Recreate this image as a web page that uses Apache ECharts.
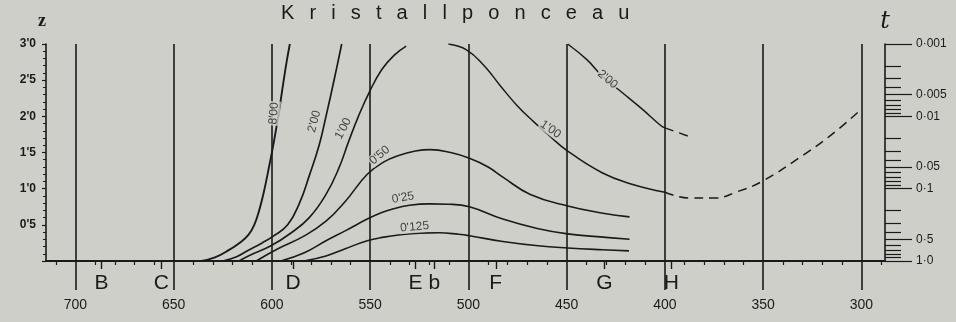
<!DOCTYPE html>
<html><head><meta charset="utf-8">
<script src="https://cdn.jsdelivr.net/npm/echarts@6/dist/echarts.min.js"></script>
<style>html,body{margin:0;padding:0;background:#cfcfca;}#c{width:956px;height:322px;}</style>
</head><body><div id="c"></div>
<script>
// ---- text / ticks ----
const chartTitle = 'Kristallponceau';
const nmGridLines = [700, 650, 600, 550, 500, 450, 400, 350, 300];
const nmLabels = ['700', '650', '600', '550', '500', '450', '400', '350', '300'];
const fraunhoferNm = [686.7, 656.3, 589.3, 527.0, 517.3, 486.1, 430.8, 396.8];
const fraunhoferLabels = ['B', 'C', 'D', 'E', 'b', 'F', 'G', 'H'];
const zTicks = [0.5, 1, 1.5, 2, 2.5, 3];
const zLabels = ["0'5", "1'0", "1'5", "2'0", "2'5", "3'0"];
const tTicks = [0.001, 0.005, 0.01, 0.05, 0.1, 0.5, 1];
const tLabels = ['0·001', '0·005', '0·01', '0·05', '0·1', '0·5', '1·0'];
const tMinorTicks = [0.002, 0.003, 0.004, 0.006, 0.007, 0.008, 0.009, 0.02, 0.03, 0.04, 0.06, 0.07, 0.08, 0.09, 0.2, 0.3, 0.4, 0.6, 0.7, 0.8, 0.9];

// ---- curves: [wavelength nm, z] ----
const curve800 = [[636,0],[629,0.05],[622,0.15],[616,0.26],[612,0.36],[609,0.5],[606.5,0.7],[604,0.97],[601.5,1.3],[599,1.65],[596.5,2.05],[594.3,2.45],[592.5,2.76],[590.9,3.0]];
const curve200Left = [[625,0],[618,0.06],[612,0.15],[605,0.25],[599.5,0.34],[592,0.5],[586,0.8],[581,1.18],[576,1.6],[572.5,2.0],[568,2.55],[564.5,3.0]];
const curve100Left = [[616.7,0],[612,0.07],[600.5,0.21],[590.7,0.38],[581,0.6],[572.5,0.92],[566,1.28],[561,1.65],[556,2.0],[550,2.36],[544,2.65],[538,2.84],[531.7,2.97]];
const curve050 = [[608,0],[597,0.17],[584,0.34],[572.5,0.55],[562.5,0.83],[551.5,1.2],[543,1.37],[535.5,1.46],[527,1.52],[519.5,1.54],[509,1.5],[499.5,1.42],[490,1.3],[482.5,1.16],[468.5,0.92],[449.5,0.76],[431.5,0.66],[418,0.61]];
const curve025 = [[595.5,0],[583.8,0.11],[572.5,0.28],[562.5,0.42],[551.5,0.58],[545,0.66],[538.5,0.72],[530,0.77],[520,0.79],[510,0.785],[499.5,0.75],[482.5,0.58],[465,0.45],[449.5,0.375],[431.5,0.33],[418,0.3]];
const curve0125 = [[583.8,0],[572.5,0.07],[562.7,0.17],[551.5,0.28],[543,0.33],[535.5,0.36],[525,0.385],[515,0.39],[505,0.37],[499.5,0.35],[482.5,0.27],[464.5,0.21],[449.5,0.18],[431.7,0.155],[418.3,0.14]];
const curve100Right = [[510.2,3.0],[501,2.92],[492,2.7],[484,2.43],[475.3,2.15],[467,1.93],[460,1.76],[449.5,1.52],[432,1.22],[416.8,1.06],[400,0.95]];
const curve100Dashed = [[400,0.95],[387,0.87],[375,0.87],[363,0.96],[350.6,1.1],[332,1.42],[315.5,1.74],[300,2.1]];
const curve200Right = [[449.5,3.0],[439.6,2.78],[431.7,2.55],[421.8,2.33],[412,2.11],[402,1.87],[400,1.84]];
const curve200Dashed = [[400,1.84],[387.5,1.72]];

// ---- curve labels ----
const curveLabelText = ["8'00", "2'00", "1'00", "0'50", "0'25", "0'125", "1'00", "2'00"];
const curveLabelNm = [599, 578.4, 563.7, 545.2, 533.3, 527.4, 458.2, 429.2];
const curveLabelZ = [2.04, 1.93, 1.83, 1.46, 0.875, 0.47, 1.82, 2.51];
const curveLabelAngle = [85, 75, 62, 40, 10, 5, -35, -40];

// ---- style ----
const BG = '#cfcfca';
const INK = '#1a1a1a';
const X_MIN = 288, X_MAX = 715;

const minorNm = [];
for (let v = 290; v <= 710; v += 10) if (v % 50 !== 0) minorNm.push(v);
const zOfT = t => -Math.log10(t);

function curveSeries(data, dashed, width) {
  return {
    type: 'line', data: data, xAxisIndex: 0, yAxisIndex: 0,
    showSymbol: false, symbol: 'none', smooth: 0.45, silent: true,
    lineStyle: { color: INK, width: width || 1.6, type: dashed ? [9, 6] : 'solid' },
    z: 3
  };
}

const baseX = { type: 'value', min: X_MIN, max: X_MAX, inverse: true, position: 'bottom', gridIndex: 0, splitLine: { show: false } };

const option = {
  backgroundColor: BG,
  animation: false,
  title: {
    text: chartTitle.split('').join('  \u2009'),
    left: 281, top: 3, padding: 0,
    textStyle: { fontFamily: 'Liberation Sans', fontSize: 20, fontWeight: 'normal', color: INK }
  },
  grid: { left: 46, right: 71, top: 44, bottom: 61 },
  xAxis: [
    Object.assign({}, baseX, {
      axisLine: { show: true, lineStyle: { color: INK, width: 1.8 } },
      axisTick: { show: true, customValues: minorNm, length: 4, lineStyle: { color: INK, width: 1.2 } },
      axisLabel: { show: false }
    }),
    Object.assign({}, baseX, {
      axisLine: { show: false },
      axisTick: { show: true, customValues: nmGridLines, length: 29, lineStyle: { color: INK, width: 1.6 } },
      axisLabel: {
        show: true, customValues: nmGridLines, margin: 37,
        fontFamily: 'Liberation Sans', fontSize: 14, color: INK,
        formatter: v => nmLabels[nmGridLines.indexOf(v)]
      },
      splitLine: { show: true, lineStyle: { color: INK, width: 1.6 } }
    }),
    Object.assign({}, baseX, {
      axisLine: { show: false },
      axisTick: { show: true, customValues: fraunhoferNm, length: 8, lineStyle: { color: INK, width: 1.4 } },
      axisLabel: {
        show: true, customValues: fraunhoferNm, margin: 12,
        fontFamily: 'Liberation Sans', fontSize: 21, color: INK,
        formatter: v => fraunhoferLabels[fraunhoferNm.indexOf(v)]
      }
    })
  ],
  yAxis: [
    {
      type: 'value', min: 0, max: 3, interval: 0.5, position: 'left',
      name: 'z', nameLocation: 'end', nameGap: 14,
      nameTextStyle: { fontFamily: 'Liberation Serif', fontWeight: 'bold', fontSize: 18, color: INK, align: 'right' },
      axisLine: { show: true, lineStyle: { color: INK, width: 1.6 } },
      axisTick: { show: true, length: 4, lineStyle: { color: INK, width: 1.2 } },
      minorTick: { show: true, splitNumber: 5, length: 3, lineStyle: { color: INK, width: 1 } },
      axisLabel: {
        margin: 10, fontFamily: 'Liberation Sans', fontWeight: 'bold', fontSize: 12, color: INK,
        formatter: v => { const i = zTicks.indexOf(v); return i < 0 ? '' : zLabels[i]; }
      },
      splitLine: { show: false }
    },
    {
      type: 'value', min: 0, max: 3, position: 'right',
      name: 't', nameLocation: 'end', nameGap: 10,
      nameTextStyle: { fontFamily: 'DejaVu Serif', fontStyle: 'italic', fontSize: 24, color: INK, align: 'center' },
      axisLine: { show: true, lineStyle: { color: INK, width: 1.6 } },
      axisTick: { show: true, customValues: tTicks.map(zOfT), length: 27, lineStyle: { color: INK, width: 1.2 } },
      axisLabel: {
        show: true, customValues: tTicks.map(zOfT), margin: 31,
        fontFamily: 'Liberation Sans', fontSize: 12, color: INK,
        formatter: v => {
          let best = 0;
          tTicks.forEach((t, i) => { if (Math.abs(zOfT(t) - v) < Math.abs(zOfT(tTicks[best]) - v)) best = i; });
          return tLabels[best];
        }
      },
      splitLine: { show: false }
    },
    {
      type: 'value', min: 0, max: 3, position: 'right',
      axisLine: { show: false },
      axisTick: { show: true, customValues: tMinorTicks.map(zOfT), length: 16, lineStyle: { color: INK, width: 1.2 } },
      axisLabel: { show: false },
      splitLine: { show: false }
    }
  ],
  series: [
    curveSeries(curve800, false, 1.9),
    curveSeries(curve200Left, false, 1.7),
    curveSeries(curve100Left, false, 1.6),
    curveSeries(curve050, false, 1.6),
    curveSeries(curve025, false, 1.6),
    curveSeries(curve0125, false, 1.6),
    curveSeries(curve100Right, false, 1.5),
    curveSeries(curve100Dashed, true, 1.5),
    curveSeries(curve200Right, false, 1.5),
    curveSeries(curve200Dashed, true, 1.5),
    {
      type: 'scatter', xAxisIndex: 0, yAxisIndex: 0, symbolSize: 0, silent: true, z: 5,
      data: curveLabelText.map((txt, i) => ({
        value: [curveLabelNm[i], curveLabelZ[i]], name: txt,
        label: { rotate: curveLabelAngle[i] }
      })),
      label: {
        show: true, position: 'inside', formatter: p => p.name,
        fontFamily: 'Liberation Sans Narrow, Liberation Sans', fontSize: 12, color: INK,
        backgroundColor: BG, padding: [0, 1]
      }
    }
  ]
};

const chart = echarts.init(document.getElementById('c'), null, { renderer: 'canvas' });
chart.setOption(option);
</script>
</body></html>
